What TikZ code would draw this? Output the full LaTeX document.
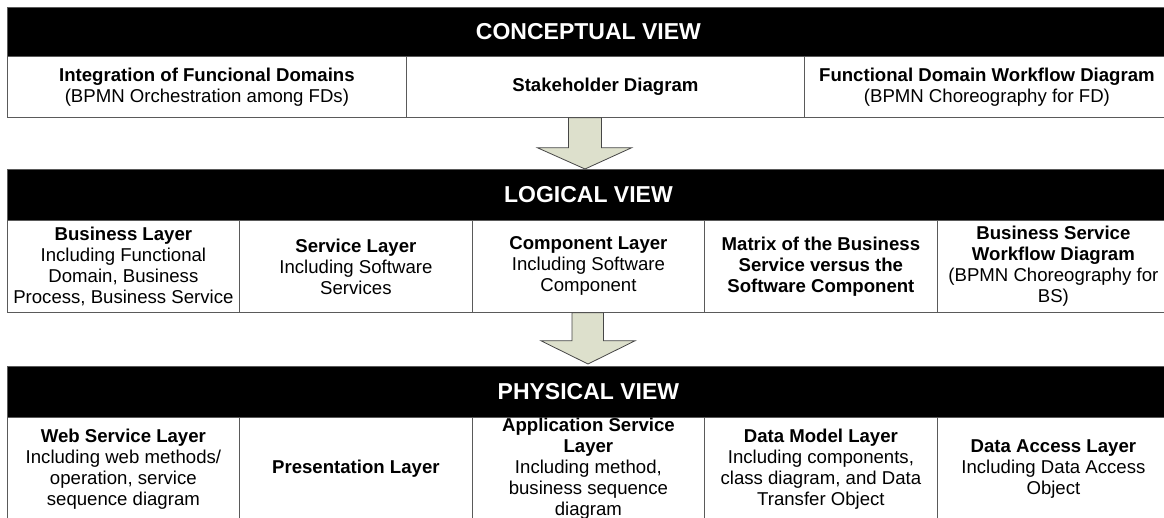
\documentclass[tikz,border=0pt]{standalone}
\usepackage{fontspec}
\setmainfont{Liberation Sans}
\usetikzlibrary{calc}
\definecolor{linec}{RGB}{90,90,90}
\definecolor{arrfill}{RGB}{221,224,204}
\definecolor{arrline}{RGB}{70,70,70}
\begin{document}
\begin{tikzpicture}[x=1pt,y=-1pt,
  hdr/.style={draw=linec, line width=0.8pt, fill=black, text=white,
    font=\fontsize{23}{26}\selectfont\bfseries, inner sep=0pt, anchor=north west,
    minimum width=1162pt, minimum height=49pt},
  cell/.style={draw=linec, line width=0.8pt, fill=white,
    font=\fontsize{18.6}{21}\selectfont, align=center, inner sep=0pt, anchor=north west},
  blockarrow/.style={draw=arrline, fill=arrfill, line width=0.8pt}]
\useasboundingbox (0,0) rectangle (1164,518);
\clip (0,0) rectangle (1164,518);
\fill[white] (0,0) rectangle (1164,518);

% Conceptual view
\node[hdr] (chdr) at (7,7) {CONCEPTUAL VIEW};
\node[cell, minimum width=399pt, minimum height=61pt] (c1) at (7,56)
  {\textbf{Integration of Funcional Domains}\\(BPMN Orchestration among FDs)};
\node[cell, minimum width=398pt, minimum height=61pt] (c2) at (406,56)
  {\textbf{Stakeholder Diagram}};
\node[cell, minimum width=365pt, minimum height=61pt] (c3) at (804,56)
  {\textbf{Functional Domain Workflow Diagram}\\(BPMN Choreography for FD)};

% Logical view
\node[hdr, minimum height=51pt] (lhdr) at (7,169) {LOGICAL VIEW};
\node[cell, minimum width=232pt, minimum height=92pt] (l1) at (7,220)
  {\textbf{Business Layer}\\Including Functional\\Domain, Business\\Process, Business Service};
\node[cell, minimum width=233pt, minimum height=92pt] (l2) at (239,220)
  {\textbf{Service Layer}\\Including Software\\Services};
\node[cell, minimum width=232pt, minimum height=92pt] (l3) at (472,220)
  {\textbf{Component Layer}\\Including Software\\Component};
\node[cell, minimum width=233pt, minimum height=92pt] (l4) at (704,220)
  {\textbf{Matrix of the Business}\\\textbf{Service versus the}\\\textbf{Software Component}};
\node[cell, minimum width=232pt, minimum height=92pt] (l5) at (937,220)
  {\textbf{Business Service}\\\textbf{Workflow Diagram}\\(BPMN Choreography for\\BS)};

% Physical view
\node[hdr, minimum height=51pt] (phdr) at (7,366) {PHYSICAL VIEW};
\node[cell, minimum width=232pt, minimum height=103pt] (p1) at (7,417)
  {\textbf{Web Service Layer}\\Including web methods/\\operation, service\\sequence diagram};
\node[cell, minimum width=233pt, minimum height=103pt] (p2) at (239,417)
  {\textbf{Presentation Layer}};
\node[cell, minimum width=232pt, minimum height=103pt] (p3) at (472,417)
  {\textbf{Application Service}\\\textbf{Layer}\\Including method,\\business sequence\\diagram};
\node[cell, minimum width=233pt, minimum height=103pt] (p4) at (704,417)
  {\textbf{Data Model Layer}\\Including components,\\class diagram, and Data\\Transfer Object};
\node[cell, minimum width=232pt, minimum height=103pt] (p5) at (937,417)
  {\textbf{Data Access Layer}\\Including Data Access\\Object};

% Block arrows (from a view's row down to the next view's header)
\coordinate (a1s) at ($(c2.south west)+(179,0)$);
\coordinate (a1e) at (lhdr.north -| a1s);
\draw[blockarrow] ($(a1s)+(-16.5,0)$) -- ($(a1s)+(16.5,0)$) -- ($(a1s)+(16.5,30)$)
  -- ($(a1s)+(46.5,30)$) -- (a1e) -- ($(a1s)+(-47.5,30)$) -- ($(a1s)+(-16.5,30)$) -- cycle;

\coordinate (a2s) at ($(l3.south west)+(116,0)$);
\coordinate (a2e) at ($(phdr.north -| a2s)+(0,-2)$);
\draw[blockarrow] ($(a2s)+(-16,0)$) -- ($(a2s)+(15.5,0)$) -- ($(a2s)+(15.5,28)$)
  -- ($(a2s)+(47,28)$) -- (a2e) -- ($(a2s)+(-47,28)$) -- ($(a2s)+(-16,28)$) -- cycle;
\end{tikzpicture}
\end{document}
